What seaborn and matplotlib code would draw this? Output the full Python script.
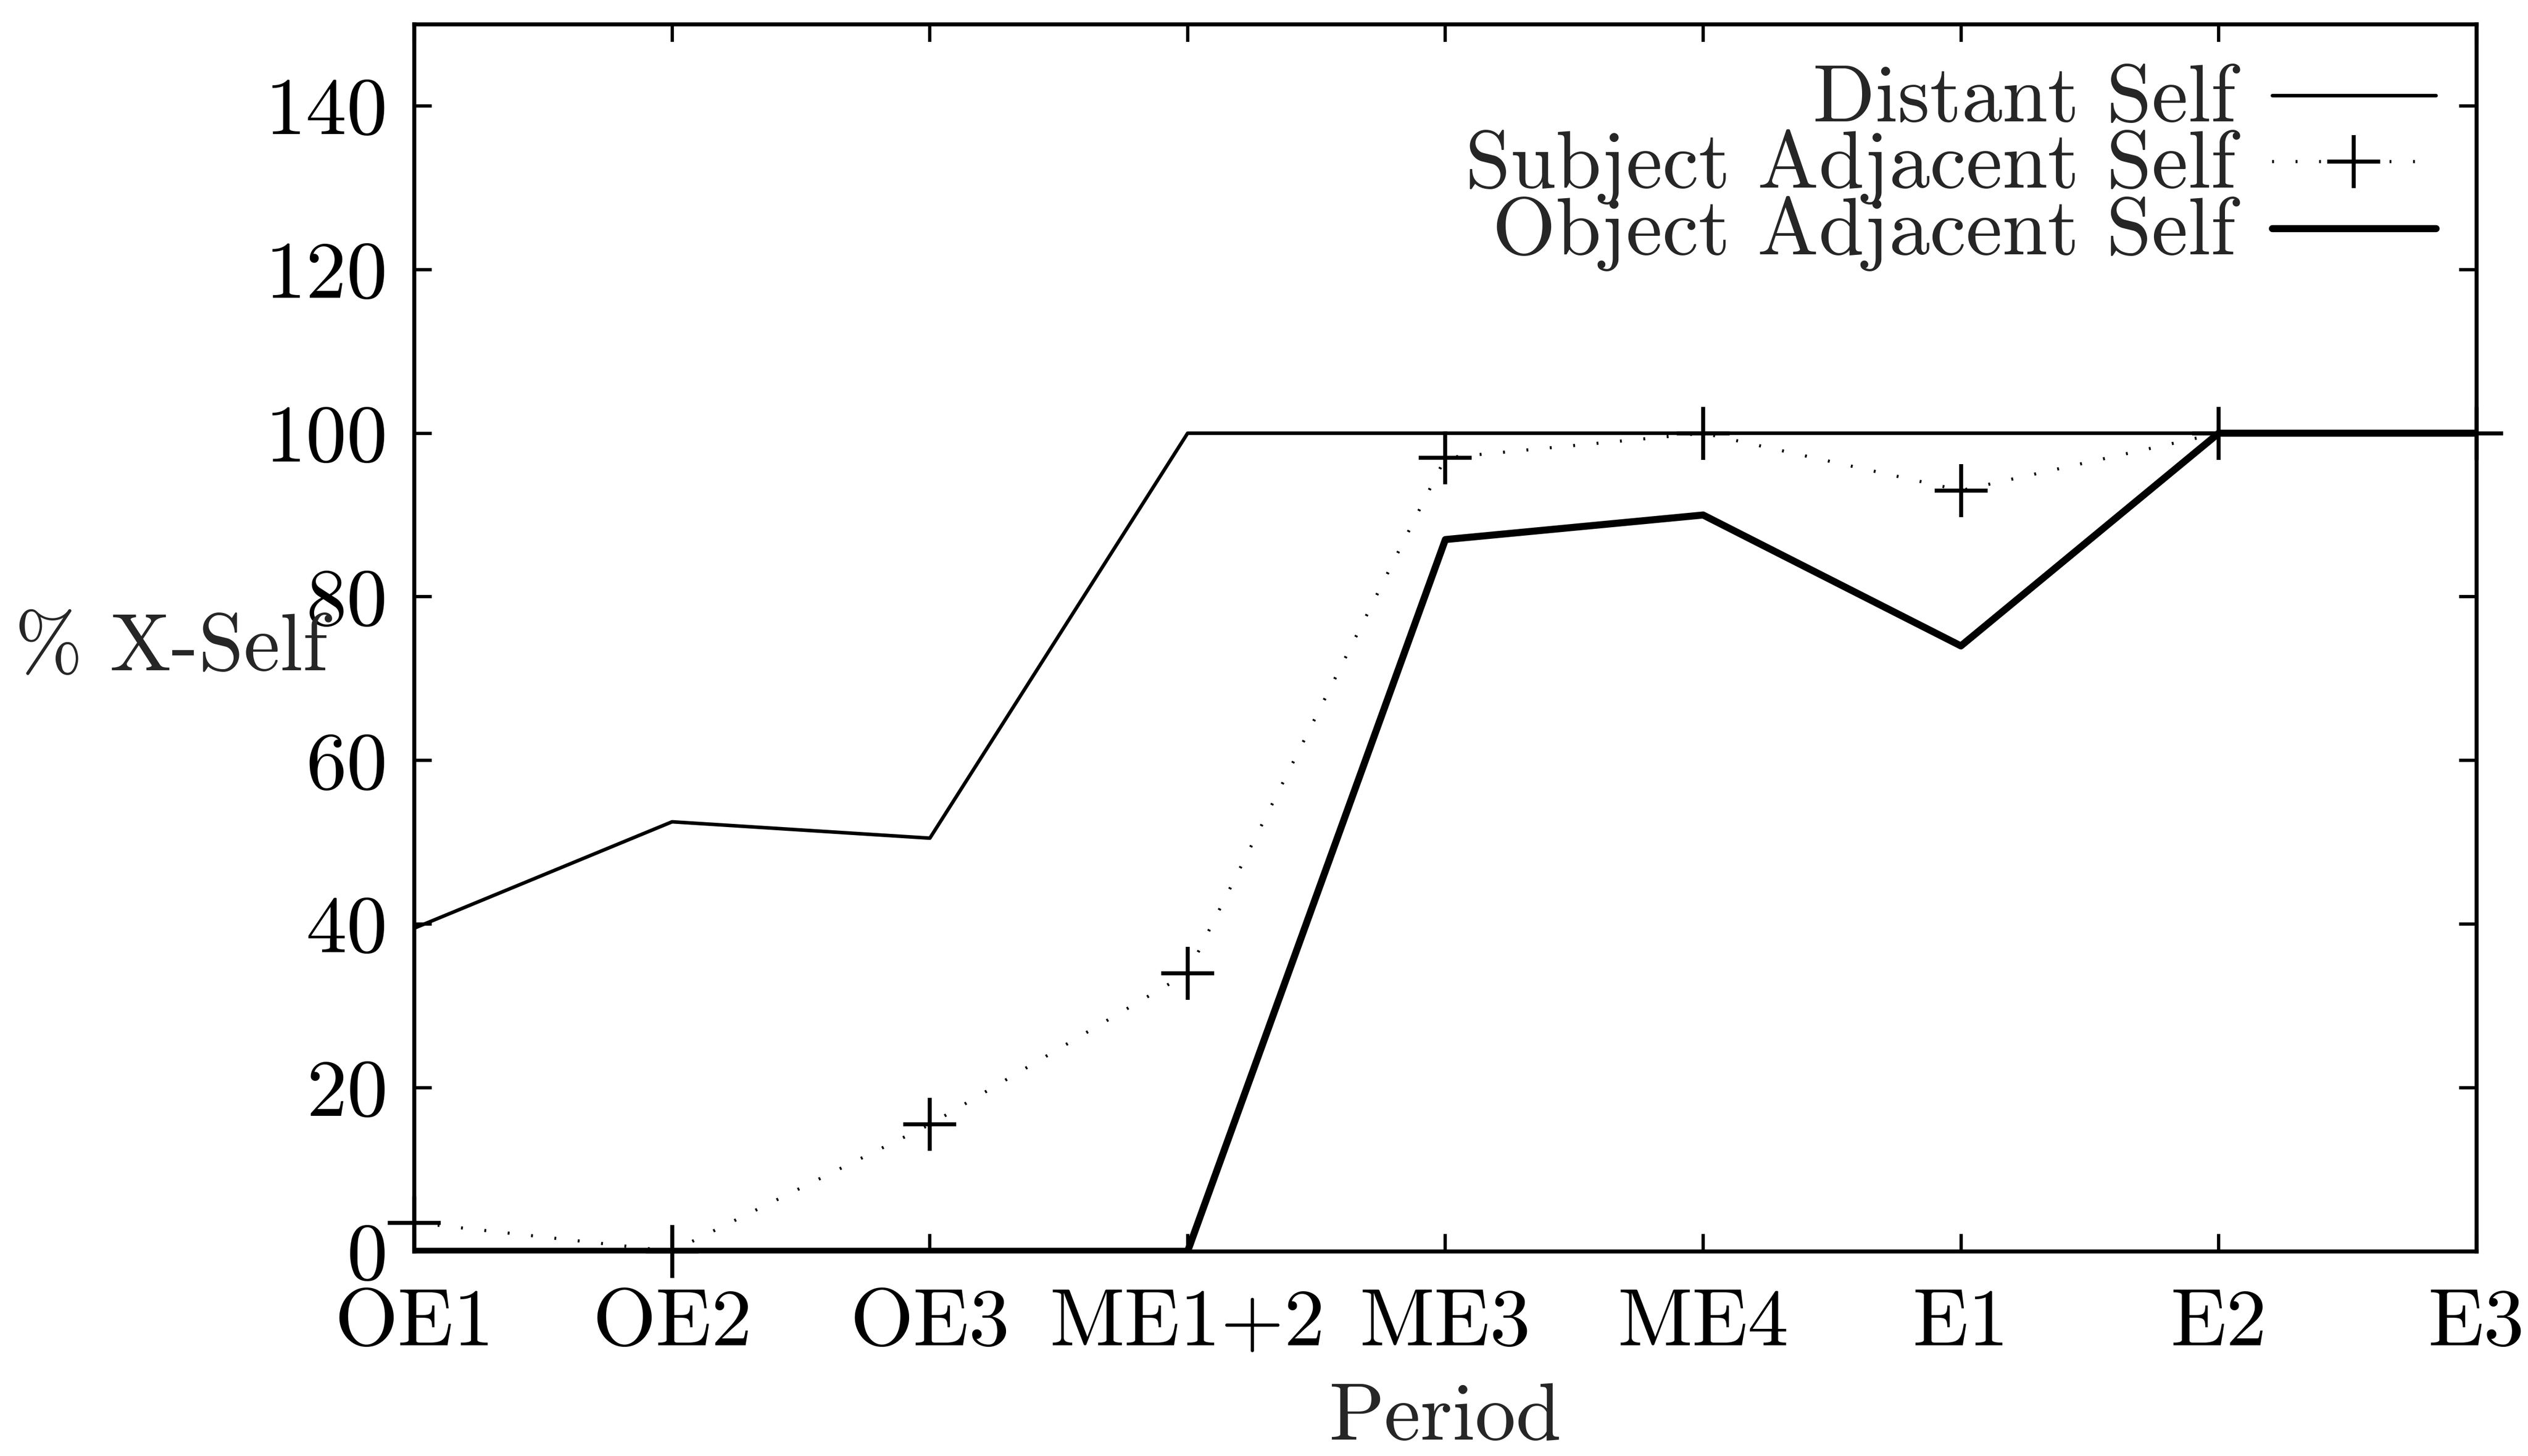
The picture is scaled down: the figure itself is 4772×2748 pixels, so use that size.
import numpy as np
import pandas as pd
import matplotlib
matplotlib.use("Agg")
import matplotlib.pyplot as plt
import seaborn as sns

periods = ["OE1", "OE2", "OE3", "ME1+2", "ME3", "ME4", "E1", "E2", "E3"]
distant_self = [39.5, 52.5, 50.5, 100, 100, 100, 100, 100, 100]
subject_adjacent_self = [3.5, 0, 15.5, 34, 97, 100, 93, 100, 100]
object_adjacent_self = [0, 0, 0, 0, 87, 90, 74, 100, 100]
y_ticks = [0, 20, 40, 60, 80, 100, 120, 140]

sns.set_theme(style="white")
plt.rcParams["font.family"] = ["cmr10", "DejaVu Serif"]
plt.rcParams["mathtext.fontset"] = "cm"
plt.rcParams["axes.formatter.use_mathtext"] = True

df = pd.DataFrame({
    "pos": np.arange(len(periods)),
    "Distant Self": distant_self,
    "Subject Adjacent Self": subject_adjacent_self,
    "Object Adjacent Self": object_adjacent_self,
})

fig = plt.figure(figsize=(4772 / 300, 2748 / 300), dpi=300)
ax = fig.add_axes([0.1639, 0.1406, 0.9796 - 0.1639, 0.9834 - 0.1406])

FS = 37

sns.lineplot(data=df, x="pos", y="Distant Self", ax=ax, color="black",
             linewidth=1.6, label="Distant Self")
sns.lineplot(data=df, x="pos", y="Subject Adjacent Self", ax=ax, color="black",
             linewidth=1.4, linestyle=(0, (0.6, 7)), marker="+", markersize=24,
             markeredgewidth=1.8, markeredgecolor="black", markerfacecolor="black",
             label="Subject Adjacent Self", clip_on=False)
sns.lineplot(data=df, x="pos", y="Object Adjacent Self", ax=ax, color="black",
             linewidth=3.2, label="Object Adjacent Self")

ax.set_xlim(0, len(periods) - 1)
ax.set_ylim(0, 150)
ax.set_xticks(np.arange(len(periods)))
ax.set_xticklabels(periods)
ax.set_yticks(y_ticks)
ax.set_yticklabels([str(v) for v in y_ticks])

for s in ax.spines.values():
    s.set_visible(True)
    s.set_color("black")
    s.set_linewidth(1.8)

ax.tick_params(axis="both", which="major", direction="in", length=8, width=1.5,
               colors="black", labelsize=FS, top=True, right=True,
               bottom=True, left=True)
ax.tick_params(axis="x", pad=17)
ax.tick_params(axis="y", pad=12)

ax.set_xlabel("Period", fontsize=FS, labelpad=10)
ax.set_ylabel("% X-Self", fontsize=FS, rotation=0, labelpad=0)
ax.yaxis.set_label_coords(-0.118, 0.49)
ax.yaxis.label.set_va("center")

leg = ax.legend(loc="upper right", frameon=False, markerfirst=False,
                fontsize=FS, handlelength=2.0, handletextpad=0.45,
                labelspacing=-0.1, borderaxespad=0.1, handleheight=0.5)
for t in leg.get_texts():
    t.set_ha("right")
leg._legend_box.align = "right"

ax.grid(False)
fig.savefig("out.png", dpi=300, facecolor="white")
